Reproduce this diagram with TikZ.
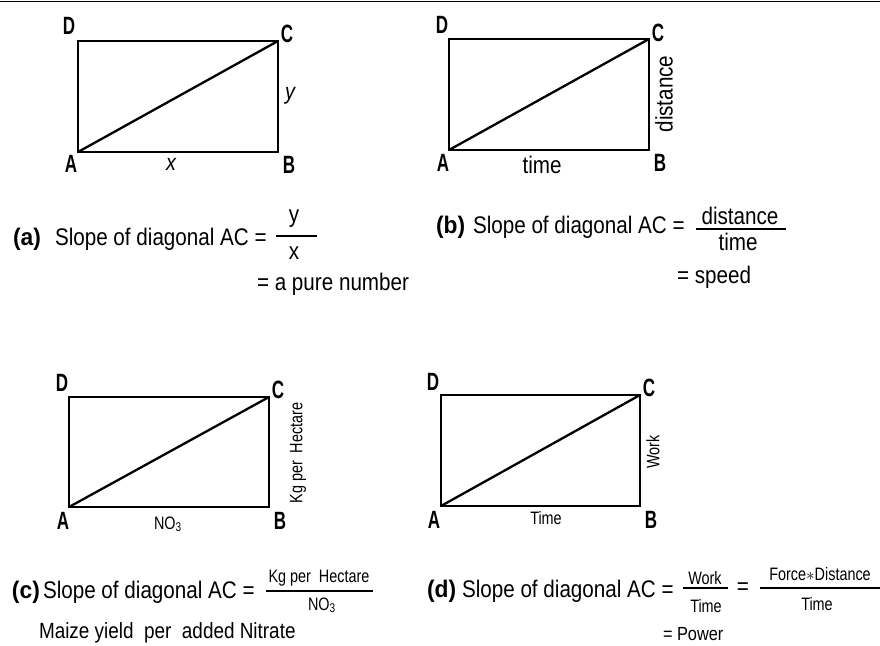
\documentclass[tikz,border=0pt]{standalone}
\usepackage{fontspec}
\setmainfont{Liberation Sans}[FakeStretch=0.86]
\newfontfamily\tagfont{Liberation Sans}[FakeStretch=0.95]
\newfontfamily\cornerfont{Liberation Sans}[FakeStretch=0.68]
\newfontfamily\smallfont{Liberation Sans}[FakeStretch=0.8]
\begin{document}
\begin{tikzpicture}[x=1pt,y=-1pt,
  every node/.style={inner sep=0pt, outer sep=0pt},
  corner/.style={font=\cornerfont\bfseries\fontsize{25}{25}\selectfont},
  side/.style={font=\fontsize{24}{24}\selectfont},
  iside/.style={font=\itshape\fontsize{23}{23}\selectfont},
  captext/.style={font=\fontsize{24}{24}\selectfont, anchor=base west},
  tag/.style={font=\tagfont\bfseries\fontsize{24}{24}\selectfont, anchor=base west},
  small/.style={font=\smallfont\fontsize{18}{18}\selectfont},
  box/.style={line width=1.3pt},
  diag/.style={line width=2.3pt},
  bar/.style={line width=1.8pt}]
\useasboundingbox (0,0) rectangle (880,645);
\coordinate (tl) at (0,1.5); \coordinate (tr) at (880,1.5);
\draw[line width=1.5pt] (tl) -- (tr);

% ---------- (a)
\coordinate (aA) at (78,152); \coordinate (aB) at (278,152);
\coordinate (aC) at (278,41); \coordinate (aD) at (78,41);
\draw[box] (aA) -- (aB) -- (aC) -- (aD) -- cycle;
\draw[diag] (aA) -- (aC);
\node[corner] (laD) at (69,26) {D};
\node[corner] (laC) at (287,34) {C};
\node[corner] (laA) at (71,164) {A};
\node[corner] (laB) at (289,165) {B};
\node[iside,anchor=base] (lax) at (171,170) {x};
\node[iside] (lay) at (290,96) {y};
\node[tag] (ta) at (13,245) {(a)};
\node[captext] (ca) at (55,245) {Slope of diagonal AC =};
\node[side] (na) at (294,219) {y};
\coordinate (ba1) at (276,236); \coordinate (ba2) at (317,236);
\draw[bar] (ba1) -- (ba2);
\node[side] (da) at (294,253) {x};
\node[captext] (ea) at (257,290) {= a pure number};

% ---------- (b)
\coordinate (bA) at (449,150); \coordinate (bB) at (649,150);
\coordinate (bC) at (649,39); \coordinate (bD) at (449,39);
\draw[box] (bA) -- (bB) -- (bC) -- (bD) -- cycle;
\draw[diag] (bA) -- (bC);
\node[corner] (lbD) at (442,25) {D};
\node[corner] (lbC) at (658,33) {C};
\node[corner] (lbA) at (443,163) {A};
\node[corner] (lbB) at (660,163) {B};
\node[side,anchor=base] (lbx) at (542,173) {time};
\node[side,rotate=90] (lby) at (664,94) {distance};
\node[tag] (tb) at (436,233) {(b)};
\node[captext] (cb) at (473,233) {Slope of diagonal AC =};
\node[side,anchor=base] (nb) at (740,224) {distance};
\coordinate (bb1) at (696,229); \coordinate (bb2) at (786,229);
\draw[bar] (bb1) -- (bb2);
\node[side,anchor=base] (db) at (738,250) {time};
\node[captext] (eb) at (677,283) {= speed};

% ---------- (c)
\coordinate (cA) at (69,507); \coordinate (cB) at (269,507);
\coordinate (cC) at (269,397); \coordinate (cD) at (69,397);
\draw[box] (cA) -- (cB) -- (cC) -- (cD) -- cycle;
\draw[diag] (cA) -- (cC);
\node[corner] (lcD) at (62,383) {D};
\node[corner] (lcC) at (278,390) {C};
\node[corner] (lcA) at (63,521) {A};
\node[corner] (lcB) at (280,521) {B};
\node[small,anchor=base west] (lcx) at (154,529) {NO\textsubscript{3}};
\node[small,rotate=90] (lcy) at (298,453) {Kg per\ \ Hectare};
\node[tag] (tc) at (12,598) {(c)};
\node[captext] (cc) at (43,598) {Slope of diagonal AC =};
\node[small,anchor=base] (nc) at (319,582) {Kg per\ \ Hectare};
\coordinate (bc1) at (266,591); \coordinate (bc2) at (373,591);
\draw[bar] (bc1) -- (bc2);
\node[small,anchor=base west] (dc) at (308,610) {NO\textsubscript{3}};
\node[captext,font=\fontsize{22}{22}\selectfont] (ec) at (39,638) {Maize yield\ \ per\ \ added Nitrate};

% ---------- (d)
\coordinate (dA) at (441,506); \coordinate (dB) at (640,506);
\coordinate (dC) at (640,395); \coordinate (dD) at (441,395);
\draw[box] (dA) -- (dB) -- (dC) -- (dD) -- cycle;
\draw[diag] (dA) -- (dC);
\node[corner] (ldD) at (433,382) {D};
\node[corner] (ldC) at (649,388) {C};
\node[corner] (ldA) at (434,520) {A};
\node[corner] (ldB) at (651,520) {B};
\node[small] (ldx) at (546,518) {Time};
\node[small,rotate=90] (ldy) at (653,452) {Work};
\node[tag] (td) at (427,597) {(d)};
\node[captext] (cd) at (462,597) {Slope of diagonal AC =};
\node[small,anchor=base] (nd) at (705,584) {Work};
\coordinate (bd1) at (683,588); \coordinate (bd2) at (728,588);
\draw[bar] (bd1) -- (bd2);
\node[small,anchor=base] (dd) at (706,612) {Time};
\node[font=\fontsize{24}{24}\selectfont] (eqd) at (743,589) {=};
\node[small,anchor=base] (nd2) at (820,580) {Force$\ast$Distance};
\coordinate (bd3) at (760,588); \coordinate (bd4) at (880,588);
\draw[bar] (bd3) -- (bd4);
\node[small,anchor=base] (dd2) at (817,610) {Time};
\node[captext,font=\fontsize{19}{19}\selectfont] (ed) at (663,640) {= Power};
\end{tikzpicture}
\end{document}
